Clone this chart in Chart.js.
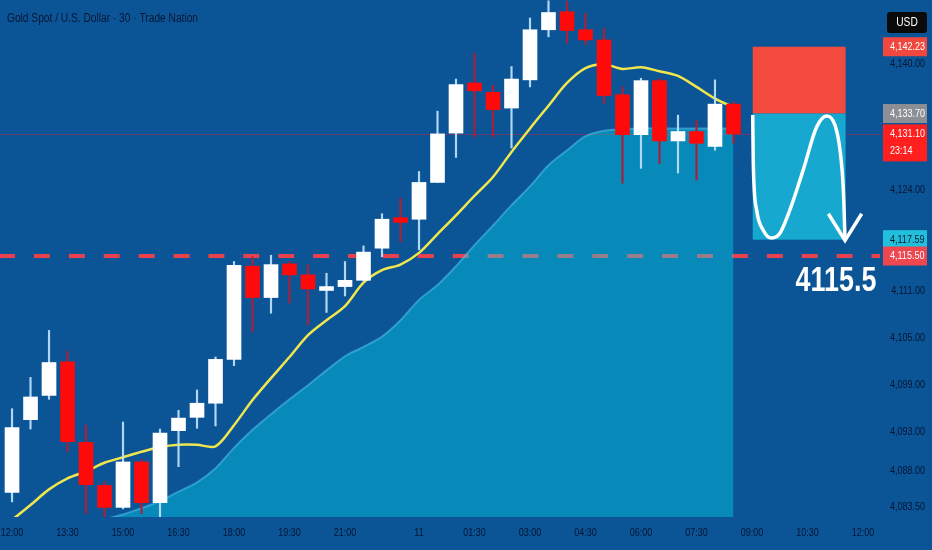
<!DOCTYPE html>
<html>
<head>
<meta charset="utf-8">
<script src="https://cdn.jsdelivr.net/npm/chart.js@4"></script>
<style>
  html, body { margin: 0; padding: 0; background: #0b5597; }
  #wrap { width: 932px; height: 550px; }
</style>
</head>
<body>
<div id="wrap"><canvas id="chart" width="932" height="550"></canvas></div>
<script>
// 30 minute candles, Gold Spot / USD
const times = ['12:00','12:30','13:00','13:30','14:00','14:30','15:00','15:30','16:00','16:30',
  '17:00','17:30','18:00','18:30','19:00','19:30','20:00','20:30','21:00','21:30',
  '23:00','23:30','00:00','00:30','01:00','01:30','02:00','02:30','03:00','03:30',
  '04:00','04:30','05:00','05:30','06:00','06:30','07:00','07:30','08:00','08:30'];
const opens  = [4085.3,4094.6,4097.7,4102.0,4091.7,4086.2,4083.4,4089.2,4084.0,4093.2,
  4094.9,4096.7,4102.3,4114.2,4110.2,4114.5,4113.1,4111.1,4111.6,4112.4,
  4116.5,4120.4,4120.2,4124.9,4131.2,4137.6,4136.4,4134.4,4138.0,4144.4,
  4146.7,4144.4,4143.1,4136.1,4131.0,4137.9,4130.2,4131.4,4129.5,4134.9];
const highs  = [4096.0,4100.0,4106.0,4103.4,4093.9,4086.7,4094.3,4089.5,4093.4,4095.8,
  4098.4,4102.6,4114.8,4115.4,4115.6,4114.8,4114.4,4113.3,4114.8,4116.8,
  4120.9,4122.9,4126.3,4134.0,4138.1,4141.4,4137.3,4139.7,4145.9,4148.1,
  4148.0,4146.5,4144.6,4137.1,4138.2,4138.2,4133.5,4132.8,4138.0,4135.2];
const lows   = [4084.1,4093.4,4097.2,4090.5,4082.6,4082.2,4083.2,4082.6,4082.2,4088.6,
  4093.5,4093.8,4101.5,4105.8,4108.2,4109.5,4106.7,4108.3,4110.4,4112.3,
  4115.4,4117.3,4116.3,4124.9,4128.1,4130.7,4130.7,4129.3,4137.1,4143.5,
  4142.7,4142.5,4135.0,4124.8,4126.7,4127.3,4126.1,4125.2,4129.0,4129.9];
const closes = [4093.6,4097.5,4101.9,4091.8,4086.3,4083.4,4089.2,4084.0,4092.9,4094.8,
  4096.7,4102.3,4114.3,4110.2,4114.4,4113.1,4111.3,4111.6,4112.4,4116.0,
  4120.2,4119.8,4124.9,4131.1,4137.4,4136.6,4134.2,4138.1,4144.4,4146.6,
  4144.3,4143.1,4136.0,4131.0,4137.9,4130.2,4131.4,4129.9,4134.9,4131.1];
// moving average (yellow) and shaded area
const ema = [4081.8,4083.7,4085.7,4087.1,4088.0,4089.1,4089.8,4090.5,4091.1,4091.4,
  4091.4,4091.2,4093.9,4097.1,4099.9,4102.6,4105.4,4107.3,4109.1,4112.1,
  4113.7,4114.4,4115.9,4118.3,4120.7,4123.2,4125.6,4128.8,4131.8,4134.7,
  4137.6,4139.5,4140.0,4139.4,4139.6,4139.1,4138.5,4137.1,4135.6,4134.5];
const area = [null,null,null,null,null,4081.9,4082.5,4083.3,4084.2,4085.4,
  4086.6,4088.4,4091.0,4093.3,4095.3,4097.2,4099.0,4100.9,4102.7,4103.9,
  4105.2,4107.3,4109.9,4111.8,4114.2,4116.9,4119.4,4122.0,4124.4,4127.1,
  4129.0,4130.8,4131.5,4131.7,4131.8,4131.8,4131.8,4131.8,4131.8,4131.8];

// axis ticks
const xTickPos  = [0,3,6,9,12,15,18,22,25,28,31,34,37,40,43,46];
const xTickText = ['12:00','13:30','15:00','16:30','18:00','19:30','21:00','11','01:30','03:00','04:30','06:00','07:30','09:00','10:30','12:00'];
const yTicks = [4140, 4124, 4111, 4105, 4099, 4093, 4088, 4083.5];

// trade idea drawing
const level = 4115.5;
const lastPrice = 4131.10;
const stopPrice = 4142.23, entryPrice = 4133.70, targetPrice = 4117.59;
const boxFrom = 40.04, boxTo = 45.06;
const waveX = [40.04,40.07,40.25,40.61,41.06,41.51,42.05,42.77,43.5,44.04,44.49,44.76,44.94,45.03];
const waveY = [4133.5,4127.4,4121.4,4118.8,4117.8,4118.4,4121.4,4126.5,4132.0,4133.4,4132.2,4129.0,4123.9,4117.5];
const arrowX = [44.13, 45.03, 45.93];
const arrowY = [4120.9, 4117.5, 4120.9];

// price tags on the right
const tagPrices = [4142.23, 4133.70, 4131.10, 4117.59, 4115.50];
const tagColors = ['#f0483e', '#8c8f96', '#ff1f1f', '#22bfdc', '#ee4750'];
const tagText   = ['#ffffff', '#ffffff', '#ffffff', '#0b1a2c', '#ffffff'];

const FONT = '"Liberation Sans", Arial, sans-serif';
const AXIS_COLOR = '#061431';
const fmt = v => v.toLocaleString('en-US', { minimumFractionDigits: 2, maximumFractionDigits: 2 });

const bodies = opens.map((o, i) => ({ x: i, y: [o, closes[i]] }));
const wicks = lows.map((l, i) => ({ x: i, y: [l, highs[i]] }));
const up = opens.map((o, i) => closes[i] >= o);

// the screenshot uses a narrow face, squeeze regular text to match
function narrowText(c, txt, x, y, size, align, sx, weight) {
  c.save();
  c.font = (weight || 'normal') + ' ' + size + 'px ' + FONT;
  c.textAlign = align;
  c.textBaseline = 'middle';
  c.translate(x, y);
  c.scale(sx, 1);
  c.fillText(txt, 0, 0);
  c.restore();
}

const decor = {
  id: 'decor',
  beforeDraw(chart) {
    const c = chart.ctx;
    c.save();
    c.fillStyle = '#0b5597';
    c.fillRect(0, 0, chart.width, chart.height);
    c.restore();
  },
  beforeDatasetsDraw(chart) {
    const c = chart.ctx, a = chart.chartArea;
    const x = chart.scales.x, y = chart.scales.y;
    c.save();
    // last price line
    const yl = Math.round(y.getPixelForValue(lastPrice)) + 0.5;
    c.strokeStyle = 'rgba(200,40,50,0.45)';
    c.lineWidth = 1;
    c.beginPath();
    c.moveTo(a.left, yl);
    c.lineTo(a.right, yl);
    c.stroke();
    // dashed level
    c.strokeStyle = '#e8414d';
    c.lineWidth = 4;
    c.setLineDash([16, 18.9]);
    c.lineDashOffset = 1;
    c.beginPath();
    c.moveTo(a.left, y.getPixelForValue(level));
    c.lineTo(a.right, y.getPixelForValue(level));
    c.stroke();
    c.setLineDash([]);
    // risk / reward boxes
    const x0 = x.getPixelForValue(boxFrom), x1 = x.getPixelForValue(boxTo);
    const yS = y.getPixelForValue(stopPrice), yE = y.getPixelForValue(entryPrice), yT = y.getPixelForValue(targetPrice);
    c.fillStyle = '#f34b3d';
    c.fillRect(x0, yS, x1 - x0, yE - yS);
    c.fillStyle = '#16a8cf';
    c.fillRect(x0, yE, x1 - x0, yT - yE);
    c.restore();
  },
  afterDraw(chart) {
    const c = chart.ctx, a = chart.chartArea;
    const x = chart.scales.x, y = chart.scales.y;
    c.save();
    // axis labels
    c.fillStyle = AXIS_COLOR;
    x.ticks.forEach(t => {
      narrowText(c, xTickText[xTickPos.indexOf(t.value)], x.getPixelForValue(t.value), a.bottom + 16, 11.5, 'center', 0.78);
    });
    y.ticks.forEach(t => {
      narrowText(c, fmt(t.value), 925, y.getPixelForValue(t.value), 11, 'right', 0.82);
    });
    // title
    c.fillStyle = '#081633';
    narrowText(c, 'Gold Spot / U.S. Dollar · 30 · Trade Nation', 7, 19, 12.5, 'left', 0.815);
    // big level text
    c.fillStyle = '#ffffff';
    narrowText(c, '4115.5', 836, y.getPixelForValue(level) + 25, 35, 'center', 0.77, 'bold');
    // USD box
    c.fillStyle = '#0a0a0a';
    c.beginPath();
    c.roundRect(887, 12, 40, 21, 3);
    c.fill();
    c.fillStyle = '#ffffff';
    narrowText(c, 'USD', 907, 22.5, 12, 'center', 0.85);
    // price tags
    tagPrices.forEach((p, i) => {
      const py = y.getPixelForValue(p);
      const h = i === 2 ? 37 : 19;
      const top = py - 9.5;
      c.fillStyle = tagColors[i];
      c.fillRect(883, top, 44, h);
      c.fillStyle = tagText[i];
      narrowText(c, fmt(p), 890, top + 9.5, 11, 'left', 0.82);
      if (i === 2) narrowText(c, '23:14', 890, top + 27, 11, 'left', 0.82);
    });
    c.restore();
  }
};

new Chart(document.getElementById('chart'), {
  type: 'bar',
  data: {
    datasets: [
      { type: 'line', label: 'wave', data: waveX.map((v, i) => ({ x: v, y: waveY[i] })),
        borderColor: '#ffffff', borderWidth: 3.5, pointRadius: 0, cubicInterpolationMode: 'monotone', order: 0 },
      { type: 'line', label: 'arrow', data: arrowX.map((v, i) => ({ x: v, y: arrowY[i] })),
        borderColor: '#ffffff', borderWidth: 3.5, pointRadius: 0, tension: 0, order: 0 },
      { label: 'body', data: bodies, backgroundColor: up.map(u => u ? '#ffffff' : '#ff0a0a'),
        barThickness: 14, grouped: false, order: 1 },
      { label: 'wick', data: wicks, backgroundColor: up.map(u => u ? 'rgba(185,222,250,0.95)' : '#a8203a'),
        barThickness: 1.5, grouped: false, order: 2 },
      { type: 'line', label: 'EMA', data: ema.map((v, i) => ({ x: i, y: v })),
        borderColor: '#f1e64c', borderWidth: 2.5, pointRadius: 0, tension: 0.3, order: 3 },
      { type: 'line', label: 'area', data: area.map((v, i) => ({ x: i, y: v })),
        fill: 'start', backgroundColor: 'rgba(0,236,249,0.35)', borderColor: 'rgba(80,195,235,0.55)',
        borderWidth: 2, pointRadius: 0, tension: 0.3, order: 4 }
    ]
  },
  options: {
    responsive: false,
    animation: false,
    events: [],
    layout: { padding: 0 },
    plugins: { legend: { display: false }, tooltip: { enabled: false } },
    scales: {
      x: {
        type: 'linear', min: -0.65, max: 46.92, offset: false,
        grid: { display: false, drawTicks: false }, border: { display: false },
        afterFit: s => { s.height = 33; s.paddingLeft = 0; s.paddingRight = 0; },
        afterBuildTicks: s => { s.ticks = xTickPos.map(v => ({ value: v })); },
        ticks: { display: false, autoSkip: false, maxRotation: 0 }
      },
      y: {
        position: 'right', min: 4082.17, max: 4148.2,
        grid: { display: false, drawTicks: false }, border: { display: false },
        afterFit: s => { s.width = 52; s.paddingTop = 0; s.paddingBottom = 0; },
        afterBuildTicks: s => { s.ticks = yTicks.map(v => ({ value: v })); },
        ticks: { display: false }
      }
    }
  },
  plugins: [decor]
});
</script>
</body>
</html>
